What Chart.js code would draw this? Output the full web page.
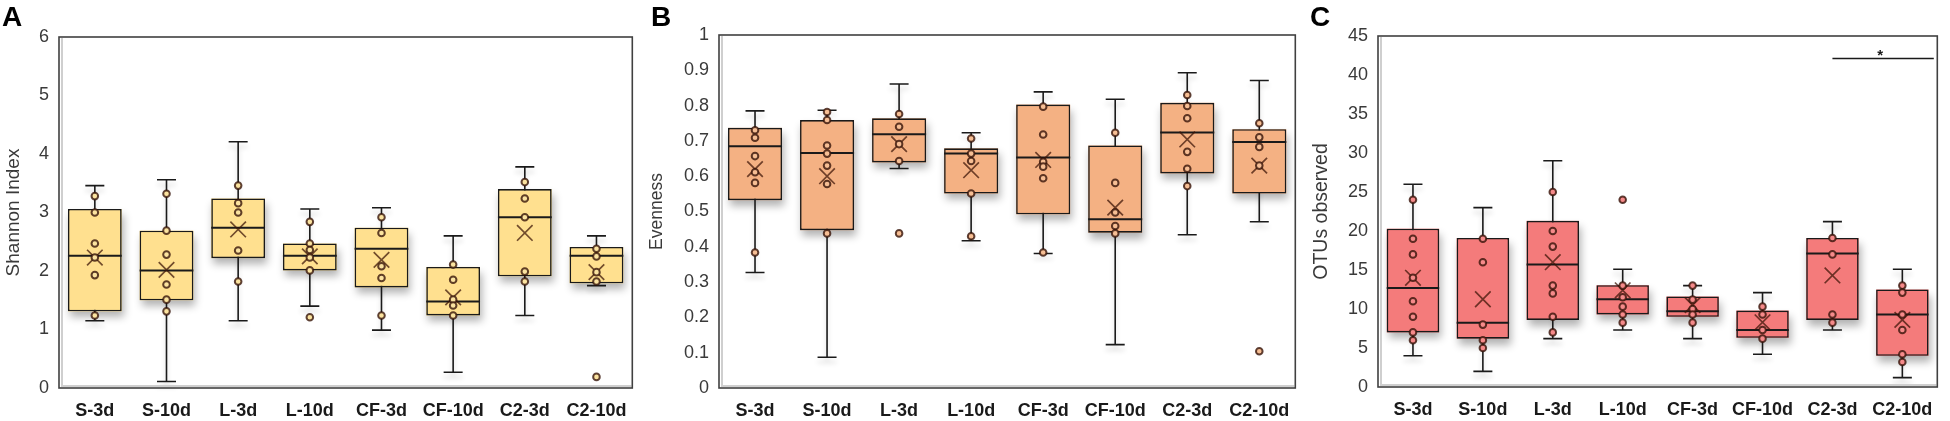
<!DOCTYPE html>
<html>
<head>
<meta charset="utf-8">
<script src="https://cdn.jsdelivr.net/npm/chart.js@4.4.1/dist/chart.umd.min.js"></script>
<style>
  body { margin: 0; background: #fff; width: 1950px; height: 421px; overflow: hidden; position: relative; }
  canvas { position: absolute; top: 0; }
  .letra { position: absolute; top: 3px; font-family: "Liberation Sans", Arial, sans-serif; font-weight: bold; font-size: 28px; line-height: 1; color: #000; }
</style>
</head>
<body>
<canvas id="shannon" width="645" height="421" style="left:0"></canvas>
<canvas id="evenness" width="663" height="421" style="left:645px"></canvas>
<canvas id="otus" width="642" height="421" style="left:1308px"></canvas>
<div class="letra" style="left:2px">A</div>
<div class="letra" style="left:651px">B</div>
<div class="letra" style="left:1310px">C</div>
<script>
var categories = ["S-3d", "S-10d", "L-3d", "L-10d", "CF-3d", "CF-10d", "C2-3d", "C2-10d"];

// A - Shannon index
var shannonTicks = [0, 1, 2, 3, 4, 5, 6];
var shannonMin = [1.15, 0.11, 1.15, 1.40, 0.99, 0.27, 1.24, 1.75];
var shannonQ1 = [1.31, 1.50, 2.22, 2.01, 1.72, 1.24, 1.91, 1.79];
var shannonMedian = [2.26, 2.01, 2.74, 2.26, 2.38, 1.48, 2.92, 2.26];
var shannonQ3 = [3.06, 2.69, 3.24, 2.47, 2.74, 2.07, 3.40, 2.41];
var shannonMax = [3.46, 3.56, 4.21, 3.06, 3.08, 2.60, 3.78, 2.60];
var shannonMean = [2.23, 2.02, 2.71, 2.25, 2.19, 1.55, 2.65, 1.98];
var shannonPoints = [
  [3.28, 3.00, 2.47, 2.23, 1.93, 1.24],
  [3.32, 2.69, 2.28, 1.77, 1.51, 1.31],
  [3.46, 3.16, 3.00, 2.35, 1.82],
  [2.84, 2.47, 2.36, 2.23, 2.01, 1.21],
  [2.92, 2.65, 2.08, 1.88, 1.24],
  [2.11, 1.85, 1.51, 1.41, 1.24],
  [3.52, 3.24, 2.92, 1.99, 1.82],
  [2.38, 2.25, 1.98, 1.82, 0.19]
];

// B - Evenness
var evennessTicks = [0, 0.1, 0.2, 0.3, 0.4, 0.5, 0.6, 0.7, 0.8, 0.9, 1];
var evennessTickLabels = ["0", "0.1", "0.2", "0.3", "0.4", "0.5", "0.6", "0.7", "0.8", "0.9", "1"];
var evennessMin = [0.327, 0.087, 0.622, 0.417, 0.381, 0.123, 0.434, 0.471];
var evennessQ1 = [0.532, 0.447, 0.639, 0.551, 0.492, 0.440, 0.608, 0.551];
var evennessMedian = [0.685, 0.666, 0.719, 0.664, 0.653, 0.478, 0.724, 0.697];
var evennessQ3 = [0.737, 0.759, 0.764, 0.679, 0.803, 0.687, 0.808, 0.733];
var evennessMax = [0.785, 0.787, 0.861, 0.723, 0.839, 0.818, 0.893, 0.871];
var evennessMean = [0.620, 0.600, 0.691, 0.617, 0.646, 0.511, 0.704, 0.630];
var evennessPoints = [
  [0.730, 0.709, 0.657, 0.611, 0.581, 0.384],
  [0.782, 0.759, 0.687, 0.664, 0.630, 0.578, 0.438],
  [0.776, 0.740, 0.691, 0.643, 0.438],
  [0.707, 0.664, 0.643, 0.551, 0.430],
  [0.797, 0.718, 0.641, 0.627, 0.594, 0.384],
  [0.723, 0.581, 0.497, 0.459, 0.438],
  [0.830, 0.799, 0.764, 0.669, 0.621, 0.572],
  [0.750, 0.710, 0.683, 0.630, 0.104]
];

// C - OTUs observed
var otusTicks = [0, 5, 10, 15, 20, 25, 30, 35, 40, 45];
var otusMin = [4, 2, 6.2, 7.3, 6.2, 4.2, 7.3, 1.2];
var otusQ1 = [7.0, 6.2, 8.6, 9.3, 9.0, 6.3, 8.6, 4.0];
var otusMedian = [12.7, 8.25, 15.7, 11.25, 9.7, 7.3, 17.1, 9.3];
var otusQ3 = [20.3, 19.1, 21.3, 13.05, 11.6, 9.8, 19.1, 12.5];
var otusMax = [26, 23, 29, 15.1, 13, 12.1, 21.2, 15.1];
var otusMean = [14, 11.25, 16, 12.4, 10.5, 8.3, 14.3, 8.6];
var otusPoints = [
  [24, 19, 17, 14, 11, 9, 7, 6],
  [19, 16, 8, 6, 5],
  [25, 20, 18, 13, 12, 9, 7],
  [24, 13, 11.5, 10.3, 9.3, 8.25],
  [13, 11.2, 10, 9.3, 8.25],
  [10.3, 9.3, 7.3, 6.2],
  [19.1, 17, 9.3, 8.25],
  [13, 12.1, 9.3, 7.3, 4.2, 3.2]
];
// significance bar between C2-3d and C2-10d
var otusSigRange = [6, 7.45];
var otusSigLevel = 42.1;
var otusSigLabel = "*";

var FONTE = '"Liberation Sans", Arial, sans-serif';

function criarPluginBox(dados) {
  return {
    id: "boxplot",
    beforeDatasetsDraw(chart) {
      var ctx = chart.ctx;
      var y = chart.scales.y;
      var barras = chart.getDatasetMeta(0).data;

      // sombra das caixas
      ctx.save();
      ctx.shadowColor = "rgba(0,0,0,0.30)";
      ctx.shadowBlur = 8;
      ctx.shadowOffsetX = 2;
      ctx.shadowOffsetY = 6;
      ctx.fillStyle = dados.cor;
      barras.forEach((b) => {
        var topo = Math.min(b.y, b.base);
        ctx.fillRect(b.x - b.width / 2, topo, b.width, Math.abs(b.base - b.y));
      });
      ctx.restore();

      // whiskers
      ctx.save();
      ctx.strokeStyle = "#1a1a1a";
      ctx.lineWidth = 1.6;
      ctx.shadowColor = "rgba(0,0,0,0.18)";
      ctx.shadowBlur = 5;
      ctx.shadowOffsetY = 5;
      barras.forEach((b, i) => {
        var yMin = y.getPixelForValue(dados.min[i]);
        var yMax = y.getPixelForValue(dados.max[i]);
        ctx.beginPath();
        ctx.moveTo(b.x, yMin);
        ctx.lineTo(b.x, yMax);
        ctx.moveTo(b.x - 9.5, yMin);
        ctx.lineTo(b.x + 9.5, yMin);
        ctx.moveTo(b.x - 9.5, yMax);
        ctx.lineTo(b.x + 9.5, yMax);
        ctx.stroke();
      });
      ctx.restore();
    },
    afterDatasetDraw(chart, args) {
      if (args.index !== 0) return;
      var ctx = chart.ctx;
      var y = chart.scales.y;
      ctx.save();
      ctx.strokeStyle = "#1a1a1a";
      ctx.lineWidth = 2;
      chart.getDatasetMeta(0).data.forEach((b, i) => {
        var ym = y.getPixelForValue(dados.mediana[i]);
        ctx.beginPath();
        ctx.moveTo(b.x - b.width / 2, ym);
        ctx.lineTo(b.x + b.width / 2, ym);
        ctx.stroke();
      });
      ctx.restore();
    },
    afterDraw(chart) {
      var ctx = chart.ctx;
      var a = chart.chartArea;
      ctx.save();
      // linhas cinza internas (eixo)
      ctx.strokeStyle = "#cfcfcf";
      ctx.lineWidth = 2;
      ctx.beginPath();
      ctx.moveTo(a.left + 3, a.top + 1);
      ctx.lineTo(a.left + 3, a.bottom - 2);
      ctx.lineTo(a.right - 1, a.bottom - 2);
      ctx.stroke();
      // moldura
      ctx.strokeStyle = "#404040";
      ctx.lineWidth = 1.6;
      ctx.strokeRect(a.left, a.top, a.right - a.left, a.bottom - a.top);

      if (dados.sig) {
        var x = chart.scales.x;
        var x1 = x.getPixelForValue(dados.sig.range[0]);
        var x2 = x.getPixelForValue(dados.sig.range[1]);
        var ys = chart.scales.y.getPixelForValue(dados.sig.nivel);
        ctx.strokeStyle = "#1a1a1a";
        ctx.lineWidth = 1.5;
        ctx.beginPath();
        ctx.moveTo(x1, ys);
        ctx.lineTo(x2, ys);
        ctx.stroke();
        ctx.fillStyle = "#1a1a1a";
        ctx.font = "bold 15px " + FONTE;
        ctx.textAlign = "center";
        ctx.textBaseline = "alphabetic";
        ctx.fillText(dados.sig.texto, (x1 + x2) / 2 - 3, ys + 1);
      }
      ctx.restore();
    }
  };
}

function plotarBoxplot(id, cfg) {
  var pontos = [];
  cfg.pontos.forEach((lista, i) => {
    lista.forEach((v) => pontos.push({ x: categories[i], y: v }));
  });

  new Chart(document.getElementById(id), {
    data: {
      labels: categories,
      datasets: [
        {
          type: "bar",
          data: cfg.q1.map((v, i) => [v, cfg.q3[i]]),
          backgroundColor: cfg.cor,
          borderColor: "#1a1a1a",
          borderWidth: 1.6,
          borderSkipped: false,
          categoryPercentage: 0.75,
          barPercentage: 1,
          order: 3,
        },
        {
          type: "line",
          data: cfg.media.map((v, i) => ({ x: categories[i], y: v })),
          showLine: false,
          pointStyle: "crossRot",
          pointRadius: 11,
          pointBorderWidth: 1.7,
          pointBorderColor: "rgba(60,20,5,0.72)",
          order: 2,
        },
        {
          type: "line",
          data: pontos,
          showLine: false,
          pointStyle: "circle",
          pointRadius: 3.3,
          pointBorderWidth: 2,
          pointBackgroundColor: cfg.corPonto,
          pointBorderColor: "rgba(50,15,5,0.78)",
          order: 1,
        },
      ],
    },
    options: {
      responsive: false,
      animation: false,
      events: [],
      layout: {
        padding: { top: cfg.topo, right: cfg.direita, left: 0, bottom: 0 },
      },
      plugins: {
        legend: { display: false },
        tooltip: { enabled: false },
      },
      scales: {
        x: {
          type: "category",
          offset: true,
          grid: { display: false, drawTicks: false },
          border: { display: false },
          ticks: {
            color: "#1a1a1a",
            font: { family: FONTE, size: 18, weight: "bold" },
            padding: 12,
            maxRotation: 0,
            autoSkip: false,
          },
          afterFit: (scale) => { scale.height = cfg.alturaX; },
        },
        y: {
          min: cfg.ticks[0],
          max: cfg.ticks[cfg.ticks.length - 1],
          grid: { display: false, drawTicks: false },
          border: { display: false },
          afterBuildTicks: (scale) => {
            scale.ticks = cfg.ticks.map((v) => ({ value: v }));
          },
          ticks: {
            color: "#3a3a3a",
            font: { family: FONTE, size: 18 },
            padding: 10,
            callback: (valor, index) => cfg.rotulos ? cfg.rotulos[index] : String(valor),
          },
          title: {
            display: true,
            text: cfg.titulo,
            color: "#3a3a3a",
            font: { family: FONTE, size: cfg.tamTitulo },
            padding: { top: 2, bottom: 0 },
          },
          afterFit: (scale) => { scale.width = cfg.larguraY; },
        },
      },
    },
    plugins: [criarPluginBox({
      cor: cfg.cor,
      min: cfg.min,
      max: cfg.max,
      mediana: cfg.mediana,
      sig: cfg.sig,
    })],
  });
}

plotarBoxplot("shannon", {
  titulo: "Shannon Index", tamTitulo: 19,
  ticks: shannonTicks,
  min: shannonMin, q1: shannonQ1, mediana: shannonMedian, q3: shannonQ3, max: shannonMax,
  media: shannonMean, pontos: shannonPoints,
  cor: "#FFE08F", corPonto: "#FBE3A0",
  topo: 37, direita: 2, larguraY: 59, alturaX: 33,
});

plotarBoxplot("evenness", {
  titulo: "Evenness", tamTitulo: 17.5,
  ticks: evennessTicks, rotulos: evennessTickLabels,
  min: evennessMin, q1: evennessQ1, mediana: evennessMedian, q3: evennessQ3, max: evennessMax,
  media: evennessMean, pontos: evennessPoints,
  cor: "#F4B183", corPonto: "#F6BE94",
  topo: 35, direita: 2, larguraY: 74, alturaX: 33,
});

plotarBoxplot("otus", {
  titulo: "OTUs observed", tamTitulo: 19.5,
  ticks: otusTicks,
  min: otusMin, q1: otusQ1, mediana: otusMedian, q3: otusQ3, max: otusMax,
  media: otusMean, pontos: otusPoints,
  cor: "#F47B7B", corPonto: "#F58A8A",
  topo: 36, direita: 3, larguraY: 70, alturaX: 34,
  sig: { range: otusSigRange, nivel: otusSigLevel, texto: otusSigLabel },
});
</script>
</body>
</html>
